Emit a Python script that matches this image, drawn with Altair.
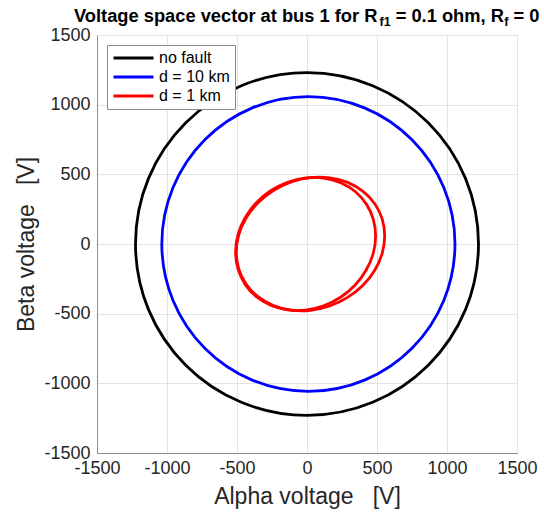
import altair as alt
import pandas as pd

FONT = "Liberation Sans"

series_names = ["no fault", "d = 10 km", "d = 1 km"]
series_colors = ["#000000", "#0000ff", "#ff0000"]
series_widths = [2.8, 2.8, 2.3]

tick_values = [-1500, -1000, -500, 0, 500, 1000, 1500]

# no fault trajectory (points read around the black curve)
black_x = [1225, 1132, 866, 469, 0, -469, -866, -1132, -1225, -1132, -866, -469, 0, 469, 866, 1132]
black_y = [0, 471, 870, 1136, 1230, 1136, 870, 471, 0, -471, -870, -1136, -1230, -1136, -870, -471]

# d = 10 km trajectory (blue)
blue_x = [1057, 977, 750, 411, 10, -391, -730, -957, -1037, -957, -730, -391, 10, 411, 750, 977]
blue_y = [0, 405, 748, 977, 1058, 977, 748, 405, 0, -405, -748, -977, -1058, -977, -748, -405]

# d = 1 km trajectory (red), outer loop
red1_x = [555, 537, 484, 400, 290, 162, 25, -112, -240, -350, -434, -487,
          -505, -487, -434, -350, -240, -112, 25, 162, 290, 400, 484, 537]
red1_y = [59, 180, 289, 378, 442, 475, 476, 445, 383, 296, 188, 67,
          -59, -180, -289, -378, -442, -475, -476, -445, -383, -296, -188, -67]

# d = 1 km trajectory (red), inner loop
red2_x = [490, 473, 423, 344, 240, 119, -10, -139, -260, -364, -443, -493,
          -510, -493, -443, -364, -260, -139, -10, 119, 240, 344, 423, 473]
red2_y = [58, 179, 288, 377, 440, 473, 474, 443, 382, 294, 187, 67,
          -58, -179, -288, -377, -440, -473, -474, -443, -382, -294, -187, -67]

rows = []


def add(series, curve, xs, ys):
    for i, (xv, yv) in enumerate(zip(xs, ys)):
        rows.append({"series": series, "curve": curve, "idx": i, "x": xv, "y": yv})


add("no fault", "c0", black_x, black_y)
add("d = 10 km", "c1", blue_x, blue_y)
add("d = 1 km", "c2", red1_x, red1_y)
add("d = 1 km", "c3", red2_x, red2_y)
df = pd.DataFrame(rows)

axis_common = dict(
    values=tick_values,
    labelExpr="toString(datum.value)",
    grid=True,
    gridColor="#e3e3e3",
    gridWidth=1,
    domainColor="#8c8c8c",
    ticks=False,
    tickSize=0,
    labelFont=FONT,
    labelFontSize=18,
    labelColor="#262626",
    labelFlush=False,
    labelOverlap=False,
    titleFont=FONT,
    titleFontSize=23,
    titleFontWeight="normal",
    titleColor="#262626",
    titleBaseline="alphabetic",
)

lines = alt.Chart(df).mark_line(interpolate="cardinal-closed").encode(
    x=alt.X(
        "x:Q",
        scale=alt.Scale(domain=[-1500, 1500], nice=False, zero=False),
        axis=alt.Axis(title="Alpha voltage\u00a0\u00a0\u00a0[V]", labelPadding=6, titleY=50, **axis_common),
    ),
    y=alt.Y(
        "y:Q",
        scale=alt.Scale(domain=[-1500, 1500], nice=False, zero=False),
        axis=alt.Axis(
            title="Beta voltage\u00a0\u00a0\u00a0[V]",
            labelPadding=7,
            titleX=-64,
            titleY=209,
            titleAngle=270,
            titleAlign="center",
            **axis_common,
        ),
    ),
    color=alt.Color(
        "series:N",
        scale=alt.Scale(domain=series_names, range=series_colors),
        legend=alt.Legend(
            title=None,
            orient="none",
            legendX=10,
            legendY=10,
            direction="vertical",
            symbolType="stroke",
            symbolSize=1600,
            symbolStrokeWidth=3,
            clipHeight=16,
            labelFont=FONT,
            labelFontSize=16,
            labelColor="#000000",
            labelOffset=4,
            strokeColor="#8c8c8c",
            fillColor="#ffffff",
            padding=5,
            rowPadding=3,
        ),
    ),
    strokeWidth=alt.StrokeWidth(
        "series:N", scale=alt.Scale(domain=series_names, range=series_widths), legend=None
    ),
    detail="curve:N",
    order="idx:Q",
)


def title_part(text, x, y, size):
    return alt.Chart(alt.Data(values=[{}])).mark_text(
        text=text,
        align="left",
        baseline="alphabetic",
        font=FONT,
        fontWeight="bold",
        fontSize=size,
        color="#000000",
    ).encode(x=alt.value(x), y=alt.value(y))


title_layers = [
    title_part("Voltage space vector at bus 1 for R", -23, -13, 18.3),
    title_part("f1", 282.5, -9, 12.5),
    title_part("= 0.1 ohm, R", 298.7, -13, 18.3),
    title_part("f", 407.3, -9, 12.5),
    title_part("= 0", 416.6, -13, 18.3),
]

chart = alt.layer(lines, *title_layers).properties(
    width=420,
    height=418,
    padding={"left": 97, "top": 35, "right": 27, "bottom": 59},
    autosize=alt.AutoSizeParams(type="none"),
    background="white",
).configure_view(stroke="#8c8c8c", strokeWidth=1)

chart.save("out.html", embed_options={"renderer": "svg", "actions": False})
